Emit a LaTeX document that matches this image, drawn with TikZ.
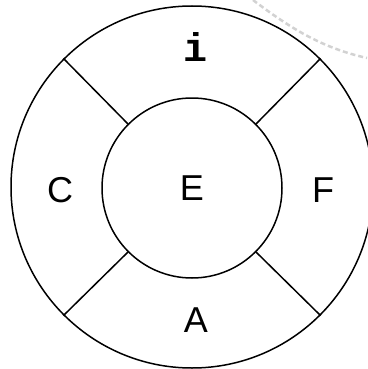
\documentclass[tikz,border=0pt]{standalone}
\usepackage{fontspec}
\setmainfont{Liberation Sans}
\newfontfamily\codefont{Liberation Mono}

\begin{document}
\begin{tikzpicture}[x=1pt, y=-1pt, every node/.style={font=\fontsize{36}{40}\selectfont}]
    \tikzstyle{ring}=[draw, circle, line width=1.5pt, inner sep=0pt]
    \tikzstyle{divider}=[line width=1.5pt]
    \tikzstyle{slot}=[inner sep=0pt]

    \useasboundingbox (0,0) rectangle (367,369);

    % faint dashed arc in the corner
    \coordinate (arcA) at (253,0);
    \coordinate (arcB) at (367,58);
    \draw[gray!35, line width=2.5pt, dash pattern=on 5pt off 3pt] (arcA) .. controls (290,28) and (322,48) .. (arcB);

    \node[ring, minimum size=362pt] (outer) at (192,187) {};
    \node[ring, minimum size=180pt] (hub) at (192,188) {E};

    \foreach \a in {45,135,225,315}
        \draw[divider] (hub.\a) -- (outer.\a);

    \node[slot, font=\fontsize{40}{44}\selectfont\codefont\bfseries] (top) at (195,47) {i};
    \node[slot] (left) at (60,190) {C};
    \node[slot] (right) at (323,190) {F};
    \node[slot] (bottom) at (196,320) {A};
\end{tikzpicture}
\end{document}
